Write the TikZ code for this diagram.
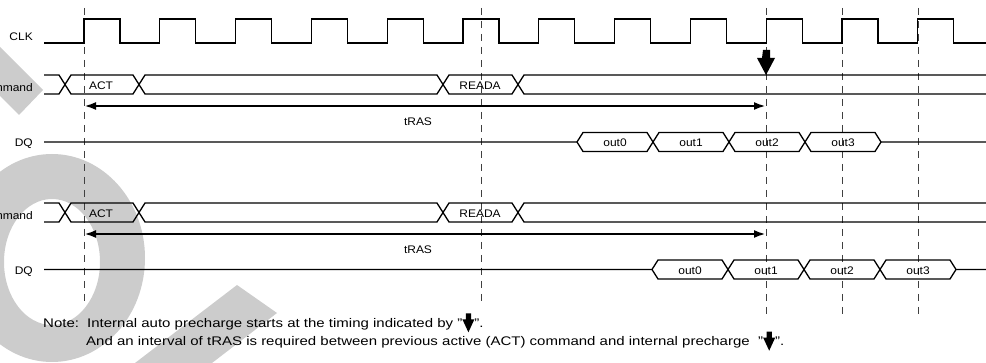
\documentclass[tikz,border=0pt]{standalone}
\usepackage{fontspec}
\usepackage{graphicx}
\setmainfont{Liberation Sans}
\usetikzlibrary{arrows.meta}
\newcommand{\lt}[1]{\scalebox{1.09}[1]{#1}}
\newcommand{\nt}[1]{\scalebox{1.2}[1]{#1}}
\newcommand{\notearrow}{\tikz[baseline=0pt]\fill[black] (-2.2pt,14pt) -- (2.2pt,14pt) -- (2.2pt,8pt) -- (5pt,8pt) -- (0pt,-5pt) -- (-5pt,8pt) -- (-2.2pt,8pt) -- cycle;}
\newcommand\cmdbus[1]{%
 \draw[sig] (44,#1-9.5) -- (59,#1-9.5) -- (71,#1+9.5) -- (133,#1+9.5) -- (145,#1-9.5) -- (437,#1-9.5) -- (449,#1+9.5) -- (512,#1+9.5) -- (524,#1-9.5) -- (986,#1-9.5);
 \draw[sig] (44,#1+9.5) -- (59,#1+9.5) -- (71,#1-9.5) -- (133,#1-9.5) -- (145,#1+9.5) -- (437,#1+9.5) -- (449,#1-9.5) -- (512,#1-9.5) -- (524,#1+9.5) -- (986,#1+9.5);}
\newcommand\databus[2]{%
 \draw[sig] (44,#1) -- (#2,#1) -- (#2+6,#1-9.5) -- (#2+70,#1-9.5) -- (#2+82,#1+9.5) -- (#2+146,#1+9.5) -- (#2+158,#1-9.5) -- (#2+222,#1-9.5) -- (#2+234,#1+9.5) -- (#2+298,#1+9.5) -- (#2+304,#1) -- (986,#1);
 \draw[sig] (#2,#1) -- (#2+6,#1+9.5) -- (#2+70,#1+9.5) -- (#2+82,#1-9.5) -- (#2+146,#1-9.5) -- (#2+158,#1+9.5) -- (#2+222,#1+9.5) -- (#2+234,#1-9.5) -- (#2+298,#1-9.5) -- (#2+304,#1);}
\begin{document}
\begin{tikzpicture}[x=1pt,y=-1pt,line join=miter,
  sig/.style={line width=1.3pt,black},
  gridline/.style={line width=0.9pt,black!75,dash pattern=on 7pt off 6pt},
  lbl/.style={font=\fontsize{11}{13}\selectfont,inner sep=0pt,anchor=base east},
  cell/.style={font=\fontsize{11}{13}\selectfont,inner sep=0pt,anchor=base},
  notetext/.style={font=\fontsize{12.5}{15}\selectfont,inner sep=0pt,anchor=base west},
  span/.style={line width=2.4pt,{Latex[length=12pt,width=8pt]}-{Latex[length=12pt,width=8pt]}},
  wm/.style={fill=black!20,draw=none}]
\useasboundingbox (0,0) rectangle (986,363);
\clip (0,0) rectangle (986,363);
% watermark
\fill[wm] (0,47) -- (43,90) -- (19,115) -- (0,96) -- cycle;
\fill[wm,even odd rule] (52,258) ellipse [x radius=93,y radius=104] (52,262) ellipse [x radius=48,y radius=63];
\fill[wm] (237,285) -- (277,313) -- (212,363) -- (135,363) -- cycle;
% grid
\foreach \gx/\gy in {84/302,481/302,766/318,842/318,918/318}
  \draw[gridline] (\gx,8) -- (\gx,\gy);
% clock
\draw[sig] (44,43) foreach \k in {0,...,11} { -- ({84+75.8*\k},43) -- ({84+75.8*\k},19) -- ({120+75.8*\k},19) -- ({120+75.8*\k},43) } -- (986,43);
\node[lbl] (clk) at (33,40.7) {\lt{CLK}};
% block 1
\cmdbus{84.5}
\node[lbl] (cmd1) at (33,91.7) {\lt{Command}};
\node[cell] (act1) at (101,89.3) {\lt{ACT}};
\node[cell] (reada1) at (480,89.5) {\lt{READA}};
\fill[black] (763,50) -- (770,50) -- (770,58) -- (775,58) -- (766,75) -- (757,58) -- (762,58) -- cycle;
\coordinate (t1a) at (84,106);
\coordinate (t1b) at (766,106);
\draw[span] (t1a) -- (t1b);
\node[cell] (tras1) at (418,126) {\lt{tRAS}};
\databus{142}{577}
\node[lbl] (dq1) at (33,147) {\lt{DQ}};
\node[cell] (o10) at (615,146.7) {\lt{out0}};
\node[cell] (o11) at (691,146.7) {\lt{out1}};
\node[cell] (o12) at (767,146.7) {\lt{out2}};
\node[cell] (o13) at (843,146.7) {\lt{out3}};
% block 2
\cmdbus{212.5}
\node[lbl] (cmd2) at (33,219.5) {\lt{Command}};
\node[cell] (act2) at (101,217.3) {\lt{ACT}};
\node[cell] (reada2) at (480,217.5) {\lt{READA}};
\coordinate (t2a) at (84,234);
\coordinate (t2b) at (766,234);
\draw[span] (t2a) -- (t2b);
\node[cell] (tras2) at (418,254) {\lt{tRAS}};
\databus{269.5}{652}
\node[lbl] (dq2) at (33,275) {\lt{DQ}};
\node[cell] (o20) at (690,274.3) {\lt{out0}};
\node[cell] (o21) at (766,274.3) {\lt{out1}};
\node[cell] (o22) at (842,274.3) {\lt{out2}};
\node[cell] (o23) at (918,274.3) {\lt{out3}};
% note
\node[notetext] (note) at (43,327.3) {\nt{Note:}};
\node[notetext] (n1) at (87,327.3) {\nt{Internal auto precharge starts at the timing indicated by "\notearrow".}};
\node[notetext] (n2) at (86,345.7) {\nt{And an interval of tRAS is required between previous active (ACT) command and internal precharge~ "\notearrow".}};
\end{tikzpicture}
\end{document}
